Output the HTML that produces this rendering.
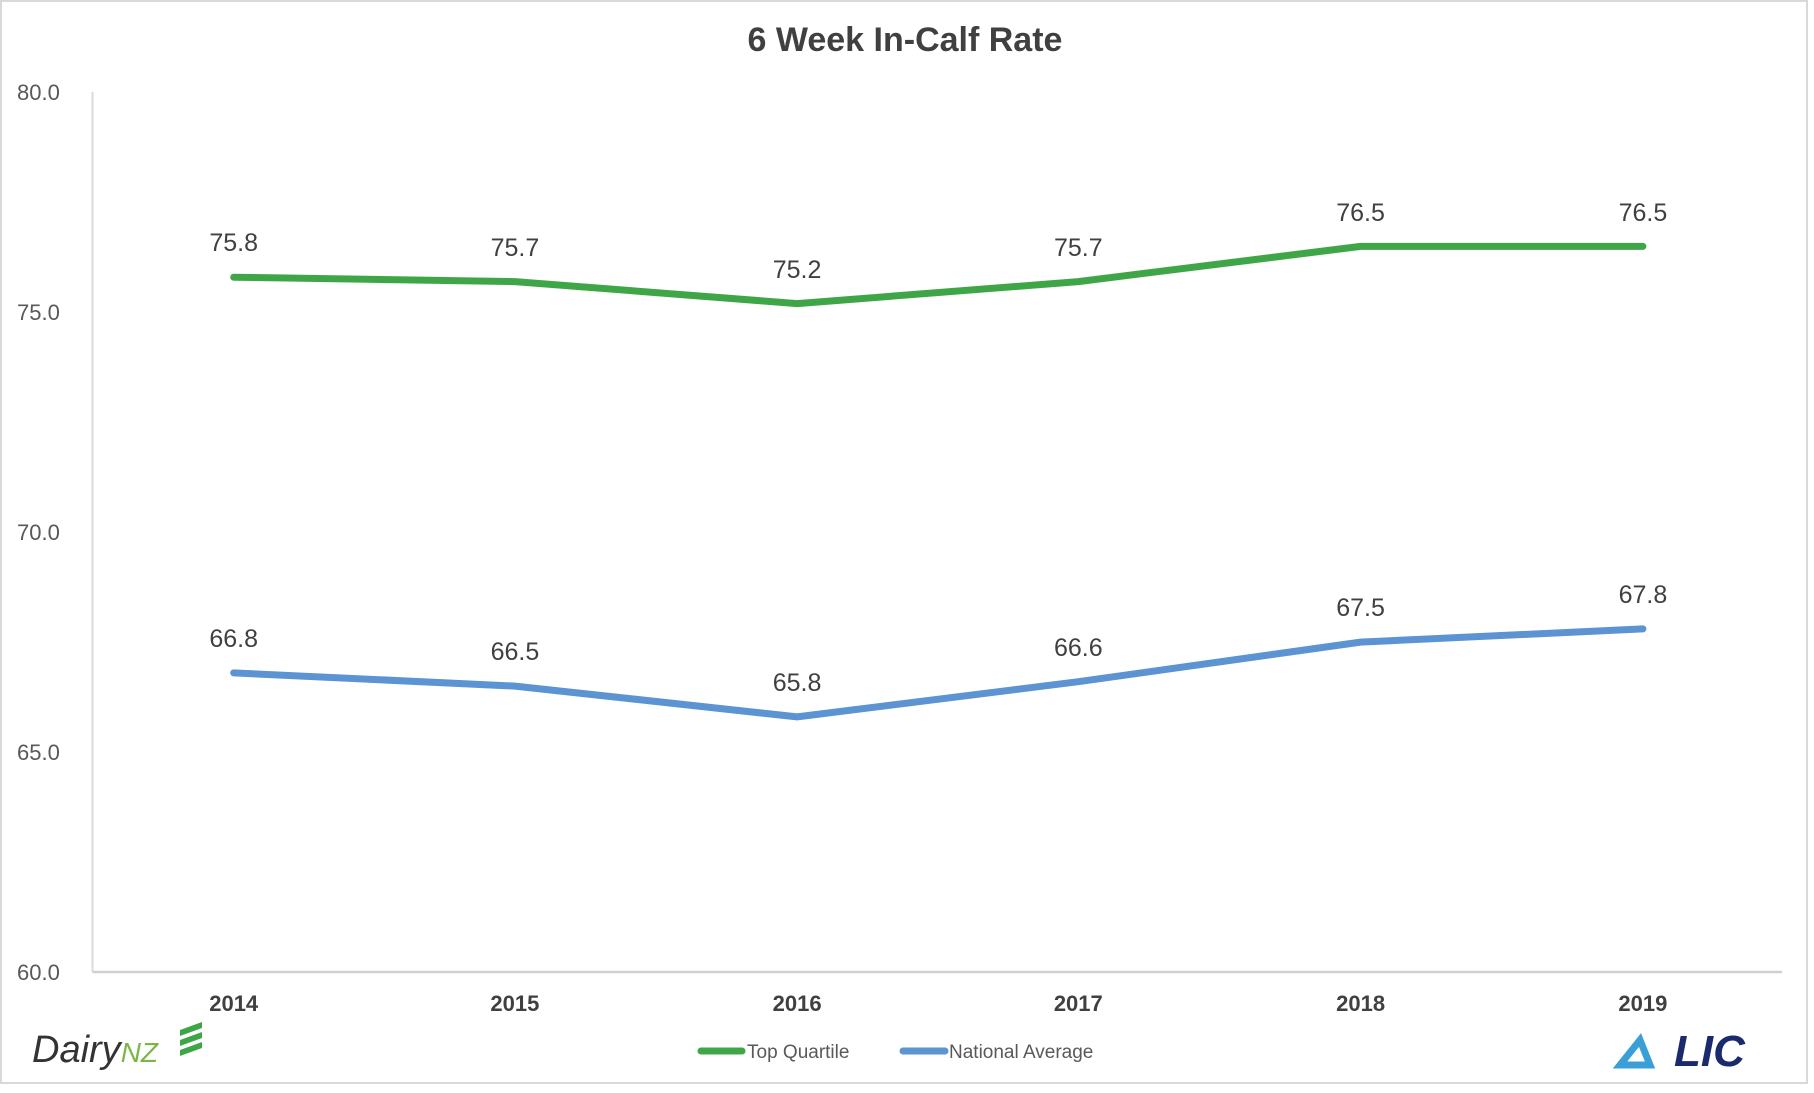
<!DOCTYPE html>
<html><head><meta charset="utf-8"><style>html,body{margin:0;padding:0;background:#fff}</style></head>
<body>
<svg width="1814" height="1088" xmlns="http://www.w3.org/2000/svg" font-family="Liberation Sans, sans-serif">
<rect x="1" y="1" width="1806" height="1082" fill="#fff" stroke="#d9d9d9" stroke-width="2"/>
<text x="905" y="51" text-anchor="middle" font-size="34" font-weight="bold" fill="#404040">6 Week In-Calf Rate</text>
<line x1="92.5" y1="92" x2="92.5" y2="972" stroke="#d9d9d9" stroke-width="2"/>
<line x1="92.5" y1="972" x2="1782" y2="972" stroke="#d0d0d0" stroke-width="2.5"/>
<g font-size="22" fill="#595959">
<text x="17" y="100">80.0</text>
<text x="17" y="320">75.0</text>
<text x="17" y="540">70.0</text>
<text x="17" y="760">65.0</text>
<text x="17" y="980">60.0</text>
</g>
<g font-size="22" font-weight="bold" fill="#404040" text-anchor="middle">
<text x="233.7" y="1011">2014</text><text x="514.9" y="1011">2015</text><text x="797.1" y="1011">2016</text>
<text x="1078.3" y="1011">2017</text><text x="1360.6" y="1011">2018</text><text x="1642.9" y="1011">2019</text>
</g>
<polyline fill="none" stroke="#3fa648" stroke-width="7" stroke-linejoin="round" stroke-linecap="round" points="233.7,277.2 514.9,281.6 797.1,303.6 1078.3,281.6 1360.6,246.4 1642.9,246.4"/>
<polyline fill="none" stroke="#5b93d3" stroke-width="7" stroke-linejoin="round" stroke-linecap="round" points="233.7,672.9 514.9,686.1 797.1,716.9 1078.3,681.7 1360.6,642.1 1642.9,628.9"/>
<g font-size="25" fill="#404040" text-anchor="middle">
<text x="233.7" y="251">75.8</text><text x="514.9" y="256">75.7</text><text x="797.1" y="278">75.2</text>
<text x="1078.3" y="256">75.7</text><text x="1360.6" y="221">76.5</text><text x="1642.9" y="221">76.5</text>
<text x="233.7" y="647">66.8</text><text x="514.9" y="660">66.5</text><text x="797.1" y="691">65.8</text>
<text x="1078.3" y="656">66.6</text><text x="1360.6" y="616">67.5</text><text x="1642.9" y="603">67.8</text>
</g>
<line x1="701" y1="1051" x2="742" y2="1051" stroke="#3fa648" stroke-width="7" stroke-linecap="round"/>
<text x="747" y="1058" font-size="19" fill="#595959">Top Quartile</text>
<line x1="903" y1="1051" x2="945" y2="1051" stroke="#5b93d3" stroke-width="7" stroke-linecap="round"/>
<text x="949" y="1058" font-size="19" fill="#595959">National Average</text>
<text x="32" y="1062" font-size="38" fill="#333" font-style="italic">Dairy<tspan fill="#7ab648" font-size="28">NZ</tspan></text>
<path d="M180 1030 l22 -8 v6 l-22 8z M180 1040 l22 -8 v6 l-22 8z M180 1050 l22 -8 v6 l-22 8z" fill="#3fa648"/>
<path d="M1640 1040 l-20 25 h30z" fill="none" stroke="#3a9fd8" stroke-width="7"/>
<text x="1674" y="1066" font-size="44" font-weight="bold" font-style="italic" fill="#1a2a6c">LIC</text>
</svg>
</body></html>
